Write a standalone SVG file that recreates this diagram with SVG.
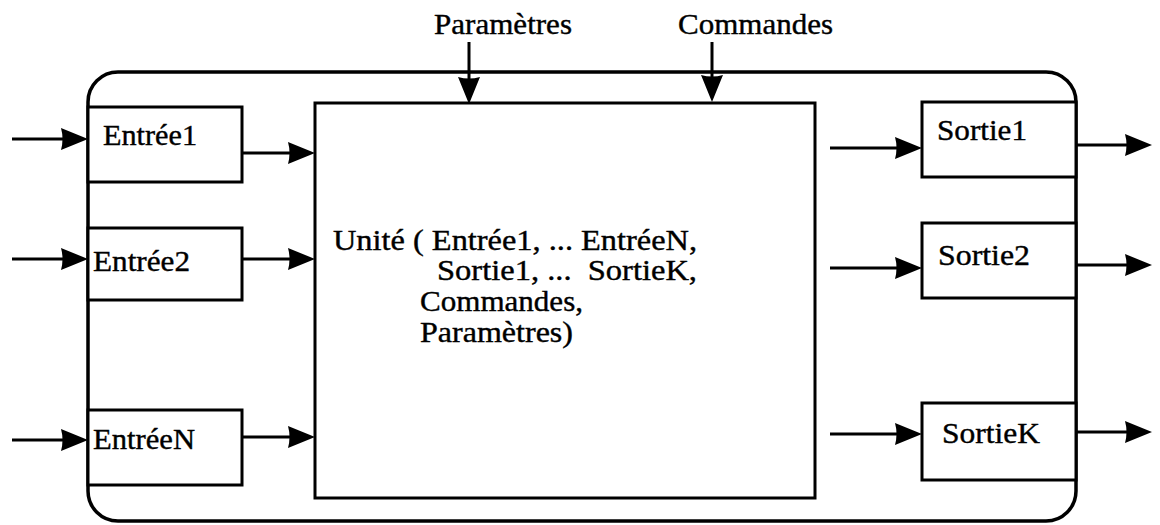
<svg xmlns="http://www.w3.org/2000/svg" width="1160" height="525" viewBox="0 0 1160 525">
  <style>
    .box { fill: #ffffff; stroke: #000000; stroke-width: 3; }
    .outer { fill: #ffffff; stroke: #000000; stroke-width: 3.5; }
    .conn { stroke: #000000; stroke-width: 3; fill: none; marker-end: url(#arrow); }
    .lbl { font-family: "Liberation Serif", "Times New Roman", serif; font-size: 30px; fill: #000000; stroke: #000000; stroke-width: 0.4; }
  </style>
  <defs>
    <marker id="arrow" markerUnits="userSpaceOnUse" markerWidth="28" markerHeight="22" refX="14" refY="11" orient="auto" viewBox="0 0 28 22">
      <path d="M0,0 L27,11 L0,22 Q3,11 0,0 z" fill="#000000"/>
    </marker>
  </defs>
  <rect width="1160" height="525" fill="#ffffff"/>

  <g id="unit-frame">
    <rect class="outer" x="88" y="72" width="988" height="449" rx="30" ry="30"/>
  </g>

  <g id="unite">
    <rect class="box" x="315" y="103" width="500" height="395"/>
    <text class="lbl" x="333" y="250" textLength="364" lengthAdjust="spacingAndGlyphs">Unité ( Entrée1, ... EntréeN,</text>
    <text class="lbl" x="437" y="280" textLength="260" lengthAdjust="spacingAndGlyphs" xml:space="preserve">Sortie1, ...  SortieK,</text>
    <text class="lbl" x="420" y="311" textLength="163" lengthAdjust="spacingAndGlyphs">Commandes,</text>
    <text class="lbl" x="420" y="342" textLength="153" lengthAdjust="spacingAndGlyphs">Paramètres)</text>
  </g>

  <g id="entree1">
    <rect class="box" x="88" y="107" width="154" height="75"/>
    <text class="lbl" x="103" y="145" textLength="94" lengthAdjust="spacingAndGlyphs">Entrée1</text>
  </g>
  <g id="entree2">
    <rect class="box" x="88" y="228" width="154" height="72"/>
    <text class="lbl" x="93" y="271" textLength="97" lengthAdjust="spacingAndGlyphs">Entrée2</text>
  </g>
  <g id="entreeN">
    <rect class="box" x="88" y="410" width="154" height="75"/>
    <text class="lbl" x="93" y="449" textLength="102" lengthAdjust="spacingAndGlyphs">EntréeN</text>
  </g>

  <g id="sortie1">
    <rect class="box" x="922" y="102" width="154" height="75"/>
    <text class="lbl" x="937" y="140" textLength="90" lengthAdjust="spacingAndGlyphs">Sortie1</text>
  </g>
  <g id="sortie2">
    <rect class="box" x="922" y="223" width="154" height="75"/>
    <text class="lbl" x="938" y="265" textLength="92" lengthAdjust="spacingAndGlyphs">Sortie2</text>
  </g>
  <g id="sortieK">
    <rect class="box" x="922" y="403" width="154" height="77"/>
    <text class="lbl" x="942" y="443" textLength="98" lengthAdjust="spacingAndGlyphs">SortieK</text>
  </g>

  <g id="parametres">
    <text class="lbl" x="434" y="34" textLength="138" lengthAdjust="spacingAndGlyphs">Paramètres</text>
  </g>
  <g id="commandes">
    <text class="lbl" x="678" y="34" textLength="155" lengthAdjust="spacingAndGlyphs">Commandes</text>
  </g>

  <g id="connectors">
    <line class="conn" x1="12" y1="139" x2="75" y2="139"/>
    <line class="conn" x1="12" y1="259" x2="75" y2="259"/>
    <line class="conn" x1="12" y1="440" x2="75" y2="440"/>

    <line class="conn" x1="242" y1="153" x2="302" y2="153"/>
    <line class="conn" x1="242" y1="259" x2="302" y2="259"/>
    <line class="conn" x1="242" y1="437" x2="302" y2="437"/>

    <line class="conn" x1="830" y1="148" x2="909" y2="148"/>
    <line class="conn" x1="830" y1="268" x2="909" y2="268"/>
    <line class="conn" x1="830" y1="434" x2="909" y2="434"/>

    <line class="conn" x1="1076" y1="145" x2="1139" y2="145"/>
    <line class="conn" x1="1076" y1="265" x2="1139" y2="265"/>
    <line class="conn" x1="1076" y1="432" x2="1139" y2="432"/>

    <line class="conn" x1="469" y1="42" x2="469" y2="91"/>
    <line class="conn" x1="712" y1="42" x2="712" y2="89"/>
  </g>
</svg>
